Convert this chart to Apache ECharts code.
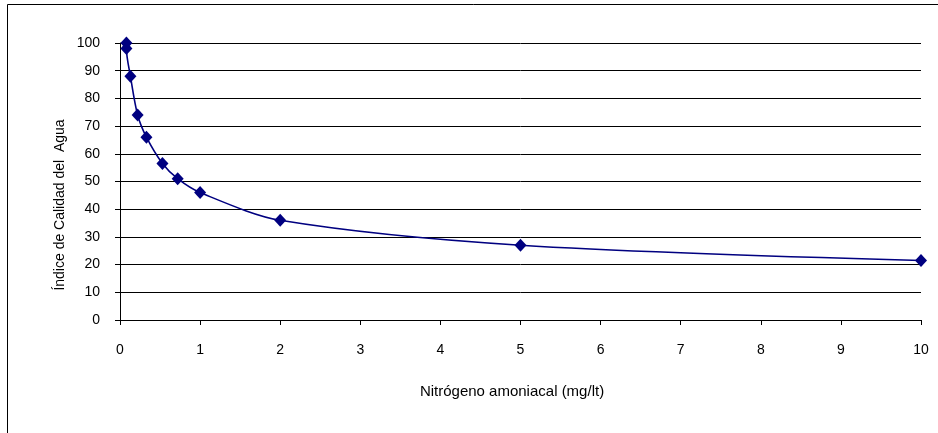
<!DOCTYPE html>
<html>
<head>
<meta charset="utf-8">
<script src="https://cdn.jsdelivr.net/npm/echarts@6/dist/echarts.min.js"></script>
<style>
  html, body { margin: 0; padding: 0; background: #fff; }
  #chart { width: 938px; height: 433px; }
</style>
</head>
<body>
<div id="chart"></div>
<script>
// nitrógeno amoniacal (mg/lt) vs índice
var nitrogeno = [0.08, 0.08, 0.13, 0.22, 0.33, 0.53, 0.72, 1, 2, 5, 10];
var indice = [100, 98, 88, 74, 66, 56.5, 51, 46, 36, 27, 21.5];

var xName = 'Nitrógeno amoniacal (mg/lt)';
var yName = 'Índice de Calidad del  Agua';

var font = "'Liberation Sans', Arial, sans-serif";

var points = [];
for (var i = 0, len = nitrogeno.length; i < len; i++) {
    points.push([nitrogeno[i], indice[i]]);
}

var myChart = echarts.init(document.getElementById('chart'));

var option = {
    backgroundColor: '#fff',
    animation: false,
    grid: {
        left: 120,
        right: 17,
        top: 43,
        bottom: 113
    },
    xAxis: {
        type: 'value',
        min: 0,
        max: 10,
        interval: 1,
        name: xName,
        nameLocation: 'middle',
        nameGap: 64,
        nameTextStyle: {color: '#000', fontSize: 15, fontFamily: font, padding: [0, 17, 0, 0]},
        axisLine: {lineStyle: {color: '#000', width: 1}},
        axisTick: {show: true, length: 5, lineStyle: {color: '#000'}},
        axisLabel: {color: '#000', fontSize: 14, fontFamily: font, margin: 23},
        splitLine: {show: false}
    },
    yAxis: {
        type: 'value',
        min: 0,
        max: 100,
        interval: 10,
        axisLine: {show: true, lineStyle: {color: '#000', width: 1}},
        axisTick: {show: true, length: 5, lineStyle: {color: '#000'}},
        axisLabel: {color: '#000', fontSize: 14, fontFamily: font, margin: 20},
        splitLine: {show: true, lineStyle: {color: '#000', width: 1}}
    },
    graphic: [
        {
            type: 'rect',
            shape: {x: 7.5, y: 4.5, width: 1000, height: 1000},
            style: {fill: 'none', stroke: '#000', lineWidth: 1},
            silent: true
        },
        {
            type: 'text',
            x: 60,
            y: 205,
            rotation: Math.PI / 2,
            style: {
                text: yName,
                fill: '#000',
                fontSize: 14,
                fontFamily: font,
                align: 'center',
                verticalAlign: 'middle'
            }
        }
    ],
    series: [
        {
            type: 'line',
            data: points,
            smooth: 0.3,
            symbol: 'diamond',
            symbolSize: [12, 13],
            showSymbol: true,
            itemStyle: {color: '#000080'},
            lineStyle: {color: '#000080', width: 1.6}
        }
    ]
};

myChart.setOption(option);
</script>
</body>
</html>
